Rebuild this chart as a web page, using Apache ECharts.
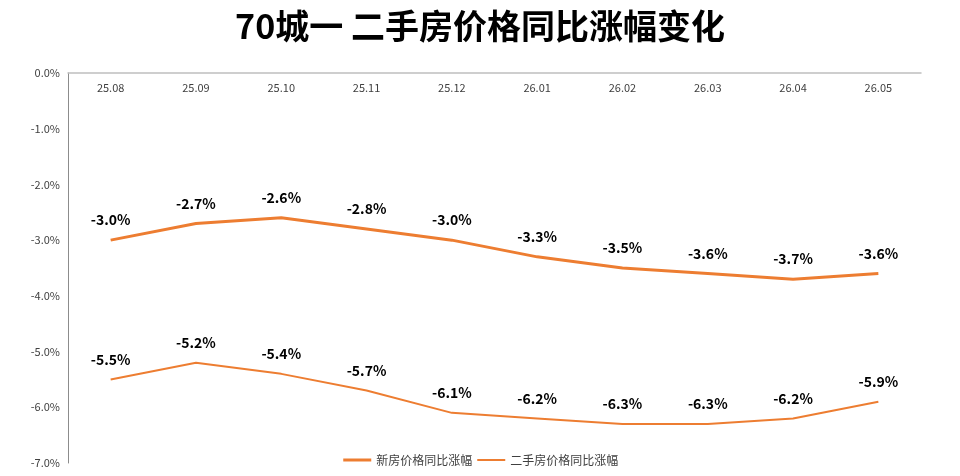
<!DOCTYPE html>
<html>
<head>
<meta charset="utf-8">
<script src="https://cdn.jsdelivr.net/npm/echarts@6/dist/echarts.min.js"></script>
<style>
  html, body { margin: 0; padding: 0; background: #fff; }
  #chart { width: 960px; height: 476px; }
</style>
</head>
<body>
<div id="chart"></div>
<script>
var months = ['25.08', '25.09', '25.10', '25.11', '25.12', '26.01', '26.02', '26.03', '26.04', '26.05'];
var newHouse = [-3.0, -2.7, -2.6, -2.8, -3.0, -3.3, -3.5, -3.6, -3.7, -3.6];
var secondHand = [-5.5, -5.2, -5.4, -5.7, -6.1, -6.2, -6.3, -6.3, -6.2, -5.9];

var myChart = echarts.init(document.getElementById('chart'));
var font = '"Noto Sans CJK SC", "Noto Sans", sans-serif';

var labelStyle = {
  show: true,
  position: 'top',
  distance: 13,
  color: '#000',
  fontWeight: 'bold',
  fontSize: 14,
  fontFamily: font,
  formatter: function (p) { return p.value.toFixed(1) + '%'; }
};

myChart.setOption({
  animation: false,
  textStyle: { fontFamily: font },
  title: {
    text: '70城一 二手房价格同比涨幅变化',
    left: 'center',
    top: 4,
    textStyle: { fontSize: 34, fontWeight: 'bold', color: '#000', fontFamily: font }
  },
  legend: {
    bottom: 5,
    left: 'center',
    itemWidth: 28,
    itemHeight: 10,
    itemGap: 4,
    itemStyle: { opacity: 0 },
    textStyle: { fontSize: 12, color: '#404040' },
    data: [
      { name: '新房价格同比涨幅', lineStyle: { width: 3 } },
      { name: '二手房价格同比涨幅', lineStyle: { width: 2 } }
    ]
  },
  grid: { left: 68, right: 39, top: 73, bottom: 13 },
  xAxis: {
    type: 'category',
    position: 'top',
    data: months,
    boundaryGap: true,
    axisLine: { lineStyle: { color: '#bfbfbf', width: 1.5 } },
    axisTick: { show: false },
    axisLabel: { inside: true, margin: 9, color: '#404040', fontSize: 11 }
  },
  yAxis: {
    type: 'value',
    min: -7,
    max: 0,
    interval: 1,
    axisLine: { show: true, lineStyle: { color: '#8c8c8c', width: 1 } },
    axisTick: { show: false },
    splitLine: { show: false },
    axisLabel: {
      color: '#404040',
      fontSize: 11,
      margin: 8,
      formatter: function (v) { return v.toFixed(1) + '%'; }
    }
  },
  series: [
    {
      name: '新房价格同比涨幅',
      type: 'line',
      data: newHouse,
      symbol: 'circle',
      symbolSize: 0,
      showSymbol: true,
      itemStyle: { color: '#ED7D31' },
      lineStyle: { color: '#ED7D31', width: 3 },
      label: labelStyle
    },
    {
      name: '二手房价格同比涨幅',
      type: 'line',
      data: secondHand,
      symbol: 'circle',
      symbolSize: 0,
      showSymbol: true,
      itemStyle: { color: '#ED7D31' },
      lineStyle: { color: '#ED7D31', width: 2 },
      label: labelStyle
    }
  ]
});

window.onresize = function () {
  myChart.resize();
};
</script>
</body>
</html>
